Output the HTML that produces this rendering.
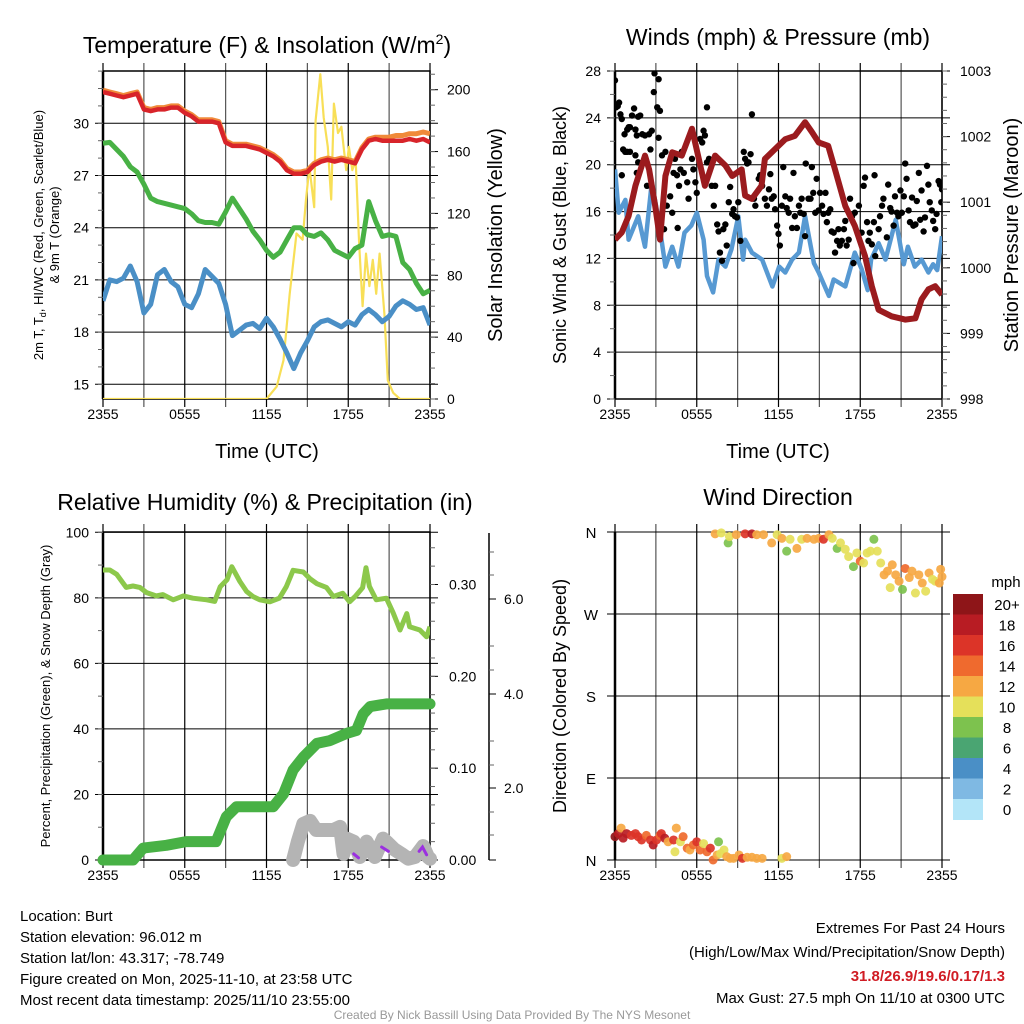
<!DOCTYPE html>
<html><head><meta charset="utf-8"><style>
html,body{margin:0;padding:0;background:#fff;}
svg{display:block;font-family:"Liberation Sans",Arial,sans-serif;}
</style></head><body>
<svg id="root" xmlns="http://www.w3.org/2000/svg" width="1024" height="1024" viewBox="0 0 1024 1024">
<rect width="1024" height="1024" fill="#fff"/>
<defs>
<clipPath id="c1"><rect x="103" y="71" width="327" height="328"/></clipPath>
<clipPath id="c2"><rect x="615" y="71" width="327" height="328"/></clipPath>
<clipPath id="c3"><rect x="103" y="532" width="327" height="328"/></clipPath>
<clipPath id="c4"><rect x="608" y="525" width="341" height="342"/></clipPath>
</defs>
<g id="layer"></g>
<text x="267" y="53" font-size="23" text-anchor="middle">Temperature (F) &amp; Insolation (W/m<tspan font-size="14" dy="-9">2</tspan><tspan dy="9">)</tspan></text>
<text x="778" y="45" font-size="23" text-anchor="middle">Winds (mph) &amp; Pressure (mb)</text>
<text x="265" y="510" font-size="23" text-anchor="middle">Relative Humidity (%) &amp; Precipitation (in)</text>
<text x="778" y="505" font-size="23" text-anchor="middle">Wind Direction</text>
<text x="267" y="458" font-size="20" text-anchor="middle">Time (UTC)</text>
<text x="778" y="458" font-size="20" text-anchor="middle">Time (UTC)</text>
<text transform="translate(43,235) rotate(-90)" font-size="13" text-anchor="middle">2m T, T<tspan font-size="9" dy="3">d</tspan><tspan dy="-3">, HI/WC (Red, Green, Scarlet/Blue)</tspan></text>
<text transform="translate(59,235) rotate(-90)" font-size="13" text-anchor="middle">&amp; 9m T (Orange)</text>
<text transform="translate(502,235) rotate(-90)" font-size="20" text-anchor="middle">Solar Insolation (Yellow)</text>
<text transform="translate(566,235) rotate(-90)" font-size="18" text-anchor="middle">Sonic Wind &amp; Gust (Blue, Black)</text>
<text transform="translate(1018,235) rotate(-90)" font-size="20" text-anchor="middle">Station Pressure (Maroon)</text>
<text transform="translate(50,696) rotate(-90)" font-size="13" text-anchor="middle">Percent, Precipitation (Green), &amp; Snow Depth (Gray)</text>
<text transform="translate(566,696) rotate(-90)" font-size="18" text-anchor="middle">Direction (Colored By Speed)</text>
<g font-size="15">
<text x="20" y="921">Location: Burt</text>
<text x="20" y="942">Station elevation: 96.012 m</text>
<text x="20" y="963">Station lat/lon: 43.317; -78.749</text>
<text x="20" y="984">Figure created on Mon, 2025-11-10, at 23:58 UTC</text>
<text x="20" y="1005">Most recent data timestamp: 2025/11/10 23:55:00</text>
</g>
<g font-size="15" text-anchor="end">
<text x="1005" y="933">Extremes For Past 24 Hours</text>
<text x="1005" y="957">(High/Low/Max Wind/Precipitation/Snow Depth)</text>
<text x="1005" y="981" fill="#d01c24" font-weight="bold">31.8/26.9/19.6/0.17/1.3</text>
<text x="1005" y="1003">Max Gust: 27.5 mph On 11/10 at 0300 UTC</text>
</g>
<text x="512" y="1019" font-size="12" fill="#999" text-anchor="middle">Created By Nick Bassill Using Data Provided By The NYS Mesonet</text>
</svg>
<script>
// ---- data ----
const halfT=[0,0.5,1,1.5,2,2.5,3,3.5,4,4.5,5,5.5,6,6.5,7,7.5,8,8.5,9,9.5,10,10.5,11,11.5,12,12.5,13,13.5,14,14.5,15,15.5,16,16.5,17,17.5,18,18.5,19,19.5,20,20.5,21,21.5,22,22.5,23,23.5,24];
const tempRed=[31.8,31.7,31.6,31.5,31.6,31.7,30.8,30.7,30.8,30.8,30.9,30.9,30.6,30.4,30.1,30.1,30.1,30.0,28.9,28.7,28.7,28.7,28.6,28.5,28.3,28.1,27.8,27.3,27.1,27.1,27.2,27.6,27.8,27.9,27.8,27.9,27.8,27.7,28.5,29.0,29.1,29.0,29.0,29.0,29.0,29.1,29.0,29.1,28.9];
const temp9m=[31.9,31.8,31.7,31.6,31.7,31.8,30.9,30.8,30.9,30.9,31.0,31.0,30.7,30.5,30.2,30.2,30.2,30.1,29.0,28.8,28.8,28.8,28.7,28.6,28.4,28.2,27.9,27.4,27.2,27.2,27.3,27.7,27.9,28.0,27.9,28.0,27.9,27.8,28.6,29.1,29.2,29.2,29.2,29.3,29.3,29.4,29.4,29.5,29.4];
const dewGreen=[28.85,28.9,28.5,28.1,27.5,27.2,26.5,25.7,25.5,25.4,25.3,25.2,25.1,24.8,24.4,24.3,24.3,24.2,24.9,25.7,25.1,24.5,23.8,23.3,22.7,22.3,22.6,23.3,24.0,24.0,23.6,23.5,23.7,23.3,22.7,22.5,22.3,22.8,23.0,25.5,24.4,23.5,23.6,23.5,22.0,21.6,20.8,20.2,20.4];
const wcBlue=[19.8,21.0,20.9,21.1,21.8,20.9,19.1,19.6,21.3,21.6,20.9,20.6,19.6,19.4,20.2,21.6,21.2,20.8,19.6,17.8,18.1,18.4,18.5,18.2,18.8,18.3,17.6,16.8,15.9,16.8,17.5,18.3,18.6,18.7,18.5,18.3,18.6,18.4,19.0,19.3,19.0,18.6,18.9,19.5,19.8,19.6,19.3,19.4,18.4];
const solarT=[0,12.0,12.75,13.25,13.7,14.2,14.65,14.9,15.15,15.5,15.6,15.95,16.2,16.5,16.75,16.95,17.25,17.5,17.85,18.05,18.3,18.55,18.8,19.05,19.3,19.55,19.8,20.05,20.3,20.65,20.9,21.3,21.8,22.15,24];
const solarV=[0,0,8,25,68,107,103,129,150,124,180,210,182,163,129,191,172,176,148,163,148,154,101,60,94,73,90,68,94,55,12,4,0,0,0];
const windT=[0,0.27,0.76,1.0,1.7,2.2,2.7,3.2,3.7,4.2,4.65,5.1,5.6,6.0,6.5,6.75,7.2,7.6,8.1,8.55,9.05,9.4,9.55,10.05,10.8,11.55,12.05,12.5,13.0,13.5,13.95,14.6,14.95,15.7,16.05,16.9,17.6,18.1,18.55,18.8,19.35,19.85,20.6,21.2,21.5,22.0,22.5,23.0,23.35,23.65,24];
const windV=[19.6,15.9,17.0,13.6,15.6,13.0,18.5,15.3,11.3,13.0,11.3,14.2,14.8,15.9,13.6,10.5,9.1,11.9,11.3,12.8,15.6,11.9,13.6,12.5,11.9,9.6,11.3,10.8,11.9,12.5,15.6,11.6,10.8,8.8,10.2,9.6,12.5,11.1,9.3,11.9,13.3,11.9,15.3,11.5,13.0,11.3,11.9,10.8,11.5,11.0,13.9];
const presT=[0,0.5,1.0,1.5,2.2,2.5,2.95,3.3,3.7,4.2,4.9,5.65,6.15,6.6,7.35,8.1,8.6,9.3,9.55,10.05,10.75,11.0,11.75,12.5,13.2,13.95,14.45,14.95,15.65,16.15,16.9,17.6,18.35,18.85,19.35,20.3,21.3,22.05,22.5,23.0,23.5,24];
const presV=[1000.43,1000.54,1000.79,1001.25,1001.71,1001.5,1000.94,1000.43,1001.40,1001.76,1001.71,1002.12,1001.66,1001.25,1001.71,1001.56,1001.40,1001.5,1001.10,1001.05,1001.25,1001.66,1001.81,1001.96,1002.01,1002.22,1002.07,1001.91,1001.86,1001.5,1000.94,1000.64,1000.18,999.72,999.36,999.26,999.21,999.23,999.52,999.67,999.72,999.59];
const gustT=[0,0.07,0.2,0.3,0.4,0.5,0.6,0.7,0.9,1.0,1.1,0.9,1.25,1.4,1.5,1.6,1.7,1.85,2.0,2.2,2.5,2.7,2.9,3.2,3.1,3.3,3.2,2.85,2.6,0.75,1.1,1.5,1.7,0.5,1.6,2.35,3.45,3.7,3.6,3.8,4.05,4.2,4.3,4.4,4.55,4.7,4.8,4.6,4.9,5.05,5.3,5.4,5.65,5.75,5.9,6.0,6.25,6.4,6.5,6.6,6.75,6.75,6.9,7.1,7.25,7.35,7.5,7.6,7.7,7.85,7.95,8.1,8.2,8.35,8.45,8.6,8.7,8.8,8.95,9.05,9.2,9.45,9.55,9.7,9.8,9.95,10.05,10.2,10.3,10.55,10.65,10.8,11.0,11.15,11.3,11.4,11.5,11.65,11.75,11.9,12.0,12.1,12.25,12.35,12.5,12.6,12.75,12.85,13.0,13.1,13.2,13.35,13.5,13.6,13.7,13.85,13.95,14.0,14.2,14.35,14.45,14.55,14.7,14.8,14.95,15.05,15.2,15.3,15.45,15.55,15.65,15.8,15.9,16.05,16.15,16.3,16.4,16.5,16.65,16.8,16.9,17.0,17.15,17.25,17.4,17.5,17.6,17.9,18.1,18.25,18.35,18.5,18.6,18.7,18.85,19.0,19.1,19.05,19.35,19.45,19.6,19.7,19.95,20.05,20.2,20.3,20.45,20.55,20.7,20.8,20.95,21.05,21.2,21.3,21.4,21.55,21.65,21.8,21.9,22.05,22.15,22.3,22.4,22.5,22.65,22.75,22.9,23.0,23.1,23.25,23.35,23.5,23.6,23.75,23.85,24.0,23.95];
const gustV=[27.2,24.9,25.0,25.3,24.3,23.9,21.3,22.6,23.0,23.2,23.2,21.1,24.2,24.8,23.0,22.5,24.1,24.2,22.6,22.5,22.6,22.9,27.8,27.3,24.9,24.6,22.3,26.2,21.3,21.1,21.1,20.8,20.2,19.1,19.3,18.2,20.8,21.1,14.5,16.5,17.3,15.9,19.3,20.5,19.1,18.2,19.6,14.6,21.1,19.3,18.5,17.1,20.5,19.6,18.5,17.6,22.2,21.9,22.9,22.5,24.9,20.2,20.5,18.2,16.5,18.2,14.9,14.3,12.5,11.8,14.5,14.9,13.1,16.8,18.1,15.8,16.2,15.6,15.5,16.8,13.5,21.1,20.5,20.1,20.2,20.9,24.3,17.1,16.5,18.8,19.1,18.2,17.1,16.5,17.9,19.2,17.1,17.3,16.2,14.8,14.1,13.1,16.5,19.8,17.3,16.3,15.9,17.1,14.6,19.3,15.6,14.6,16.5,15.9,17.1,15.8,13.9,20.1,17.1,17.1,19.8,17.6,15.9,18.8,16.1,17.6,16.5,15.8,17.6,15.1,15.9,16.2,14.3,14.2,12.5,13.5,14.5,13.1,13.5,14.5,15.2,13.1,13.6,17.1,15.6,11.6,15.9,16.5,14.2,18.2,18.9,15.1,13.5,14.2,13.2,15.1,12.2,19.1,14.5,15.6,16.5,17.1,13.8,18.3,16.3,16.0,14.8,17.3,15.9,15.6,17.8,15.9,17.3,20.1,18.8,16.1,15.1,17.2,14.8,14.9,16.9,19.3,15.3,17.8,14.3,15.5,19.9,18.3,16.8,16.1,15.2,14.5,15.8,18.6,18.3,17.9,16.8];
const rhT=[0,0.5,1.0,1.7,2.2,2.7,3.2,3.9,4.4,5.15,5.9,6.6,7.6,8.2,8.6,9.1,9.45,10.05,10.55,11.0,11.5,12.25,12.95,13.45,13.95,14.7,15.2,15.7,16.4,16.9,17.6,18.1,18.55,19.05,19.3,19.55,20.05,20.8,21.3,21.8,22.3,22.5,23.25,23.75,24];
const rhV=[88.5,88.5,87.2,83.2,83.6,83.2,81.6,80.6,81.0,79.4,80.6,79.9,79.4,78.9,83.4,85.5,89.5,85.0,81.9,80.4,79.4,78.8,79.9,83.4,88.4,87.9,85.8,84.3,83.2,80.4,81.4,78.8,80.6,83.1,89.2,83.5,79.4,79.9,75.4,70.2,75.2,71.2,70.2,68.1,71.2];
const precipT=[0,2.2,2.95,4.65,6.1,8.3,9.05,9.8,12.5,13.25,13.95,14.7,15.7,16.65,17.9,18.6,19.1,19.6,20.8,24];
const precipV=[0,0,0.013,0.016,0.020,0.020,0.047,0.058,0.058,0.072,0.098,0.112,0.127,0.130,0.138,0.141,0.159,0.167,0.170,0.170];
const snowT=[13.95,14.3,14.7,15.2,15.65,16.9,17.4,17.65,17.9,18.4,18.85,19.35,19.95,20.55,20.9,21.4,21.9,22.4,22.9,23.5,23.85,24];
const snowV=[0,0.42,0.83,0.9,0.69,0.69,0.76,0.14,0.49,0.42,0.07,0.42,0.07,0.49,0.39,0.24,0.14,0.03,0.07,0.32,0.07,0.03];
const purpleT=[[18.4,18.75],[20.45,20.95],[23.2,23.45,23.75]];
const purpleV=[[0.14,0.05],[0.3,0.2],[0.2,0.3,0.12]];
const dirT=[0,0.25,0.45,0.6,0.85,1.2,1.5,1.7,1.95,2.3,2.6,2.8,3.05,3.3,3.4,3.65,3.9,4.3,4.4,4.5,4.8,5.0,5.3,5.5,5.75,6.0,6.25,6.5,6.75,7.0,7.2,7.5,7.6,7.75,8.0,8.2,8.45,8.7,9.1,9.35,9.7,10.05,10.4,10.8,12.25,12.6,
7.35,7.8,8.3,8.4,8.9,9.55,10.05,10.4,10.9,11.5,11.9,12.25,12.6,12.85,13.35,13.7,14.1,14.6,14.95,15.3,15.7,15.95,16.3,16.55,16.9,17.15,17.5,17.75,18.0,18.25,18.5,18.75,19.0,19.25,19.5,19.75,20.0,20.2,20.35,20.6,20.85,21.1,21.3,21.6,21.8,22.05,22.3,22.55,22.8,23.05,23.3,23.5,23.8,23.9,24.0];
const dirDeg=[25.6,29,35,24,29,27,29,25.6,22,27,22,16.5,22,27,29,24,20,22,9,35,20,25.6,13,11,16.5,20,11,18,9,13,0,5.5,20,7,11,3.7,1.8,1.8,5.5,1.8,3,3,1.8,1.8,1.8,3.7,
358,359,348,355,357,358,358,357,357,348,357,353,339,352,342,352,353,352,353,352,357,353,342,348,341,333,322,337,328,326,337,339,352,339,326,313,317,299,324,313,306,297,320,310,317,293,313,304,295,315,308,306,304,319,311];
const dirSpd=[21,18,13,19,18,17,17,16,17,15,17,19,16,15,17,18,13,16,11,13,10,15,15,12,14,17,15,11,15,16,15,12,9,11,10,13,13,12,13,17,13,12,12,12,11,12,
12,10,8,11,12,17,18,12,12,13,11,13,8,10,12,11,12,12,13,16,12,11,9,11,10,10,8,10,14,11,10,11,9,11,10,12,12,10,13,12,12,8,15,12,12,10,13,12,10,12,11,10,12,12,13,12,13,15];
const timeLabels=["2355","0555","1155","1755","2355"];
const tempTicks=[15,18,21,24,27,30];
const solarTicks=[0,40,80,120,160,200];
const windTicks=[0,4,8,12,16,20,24,28];
const presTicks=[998,999,1000,1001,1002,1003];
const rhTicks=[0,20,40,60,80,100];
const precipTicks=[0,0.1,0.2,0.3];
const snowTicks=[2,4,6];
const dirLabels=["N","E","S","W","N"];
const speedLabels=["20+","18","16","14","12","10","8","6","4","2","0"];
const speedColors=["#8e1518","#b81c23","#dc3428","#ef6a2e","#f6a843","#e5e05a","#7dc24e","#4aa572","#4a8fc6","#7fb9e3","#b3e5f8"];

// ---- helpers ----
const NS="http://www.w3.org/2000/svg";
const layer=document.getElementById('layer');
function el(tag,attrs,parent){const e=document.createElementNS(NS,tag);for(const k in attrs)e.setAttribute(k,attrs[k]);(parent||layer).appendChild(e);return e;}
const P1={x0:103,x1:430,y0:71,y1:399},P2={x0:615,x1:942,y0:71,y1:399},P3={x0:103,x1:430,y0:532,y1:860},P4={x0:615,x1:942,y0:532,y1:860};
function xs(P){return t=>P.x0+t/24*(P.x1-P.x0);}
function lin(d0,d1,r0,r1){return v=>r0+(v-d0)/(d1-d0)*(r1-r0);}
const yT=lin(15,30,384.3,123.3), yS=lin(0,200,399,89.7);
const yW=lin(0,28,399,71), yP=lin(998,1003,399,71);
const yRH=lin(0,100,860,532.3), yPr=lin(0,0.3,860,584.5), ySn=lin(0,6,860,599);
const yD=lin(0,360,860,532);
function pts(ts,vs,xf,yf){return ts.map((t,i)=>xf(t).toFixed(1)+','+yf(vs[i]).toFixed(1)).join(' ');}

function gridAndFrame(P,name,hTicks,yf){
  const g=el('g',{});
  
  
  const xf=xs(P);
  for(let h=0;h<=24;h+=3){const x=xf(h);
    const l=el('line',{x1:x,x2:x,y1:P.y0-8,y2:P.y1+8,stroke:(h%6==0?'#000':'#555'),'stroke-width':1.2},g);
    }
  hTicks.forEach(v=>{const y=yf(v);
    const l=el('line',{x1:P.x0-8,x2:P.x1+8,y1:y,y2:y,stroke:'#000','stroke-width':1},g);
    });
  const r=el('rect',{x:P.x0,y:P.y0,width:P.x1-P.x0,height:P.y1-P.y0,fill:'none',stroke:'#000','stroke-width':1.5},g);
  
  el('line',{x1:P.x0,x2:P.x0,y1:P.y0,y2:P.y1,stroke:'#000','stroke-width':2.5},g);
  // x labels
  timeLabels.forEach((s,i)=>{const t=el('text',{x:xf(i*6),y:P.y1+20,'font-size':14,'text-anchor':'middle'},g);t.textContent=s;
    });
}
function leftLabels(P,ticks,yf,fmt){ticks.forEach(v=>{const t=el('text',{x:P.x0-14,y:yf(v)+5,'font-size':14,'text-anchor':'end'});t.textContent=fmt(v);
  });}
function rightAxis(P,ticks,yf,fmt,minorStep,dmin,dmax,lx){
  ticks.forEach(v=>{const y=yf(v);el('line',{x1:P.x1,x2:P.x1+8,y1:y,y2:y,stroke:'#000'});
    const t=el('text',{x:lx,y:y+5,'font-size':14});t.textContent=fmt(v);
    });
  for(let v=dmin;v<=dmax+1e-9;v+=minorStep){const y=yf(v);if(y<P.y0-0.5||y>P.y1+0.5)continue;el('line',{x1:P.x1,x2:P.x1+5,y1:y,y2:y,stroke:'#666'});}
}
function leftMinor(P,yf,step,dmin,dmax){for(let v=dmin;v<=dmax+1e-9;v+=step){const y=yf(v);if(y<P.y0-0.5||y>P.y1+0.5)continue;el('line',{x1:P.x0-5,x2:P.x0,y1:y,y2:y,stroke:'#666'});}}

// ---- Panel 1 ----
gridAndFrame(P1,'temperature',tempTicks,yT);
leftLabels(P1,tempTicks,yT,v=>v);
leftMinor(P1,yT,1,14,33);
rightAxis(P1,solarTicks,yS,v=>v,10,0,210,447);
{const x=xs(P1);const g=el('g',{'clip-path':'url(#c1)'});
 let p;
 p=el('polyline',{points:pts(solarT,solarV,x,yS),fill:'none',stroke:'#f8df57','stroke-width':2.2,'stroke-linejoin':'round'},g);
 
 p=el('polyline',{points:pts(halfT,wcBlue,x,yT),fill:'none',stroke:'#4a8fc6','stroke-width':5,'stroke-linejoin':'round'},g);
 
 p=el('polyline',{points:pts(halfT,dewGreen,x,yT),fill:'none',stroke:'#48b145','stroke-width':5,'stroke-linejoin':'round'},g);
 
 p=el('polyline',{points:pts(halfT,temp9m,x,yT),fill:'none',stroke:'#f08a3a','stroke-width':5,'stroke-linejoin':'round'},g);
 
 p=el('polyline',{points:pts(halfT,tempRed,x,yT),fill:'none',stroke:'#d8242a','stroke-width':4.5,'stroke-linejoin':'round'},g);
 
}
// ---- Panel 2 ----
gridAndFrame(P2,'winds',windTicks,yW);
leftLabels(P2,windTicks,yW,v=>v);
leftMinor(P2,yW,2,0,28);
rightAxis(P2,presTicks,yP,v=>v,0.2,998,1003,960);
{const x=xs(P2);const g=el('g',{'clip-path':'url(#c2)'});
 let p=el('polyline',{points:pts(windT,windV,x,yW),fill:'none',stroke:'#5799d2','stroke-width':4.5,'stroke-linejoin':'round'},g);
 
 gustT.forEach((t,i)=>{const c=el('circle',{cx:x(t),cy:yW(gustV[i]),r:3.2,fill:'#000'},g);
   });
 p=el('polyline',{points:pts(presT,presV,x,yP),fill:'none',stroke:'#9b1b1e','stroke-width':6,'stroke-linejoin':'round'},g);
 
}
// ---- Panel 3 ----
gridAndFrame(P3,'humidity',rhTicks,yRH);
leftLabels(P3,rhTicks,yRH,v=>v);
leftMinor(P3,yRH,10,0,100);
rightAxis(P3,precipTicks,yPr,v=>v.toFixed(2),0.02,0,0.36,449);
{el('line',{x1:489,x2:489,y1:533,y2:860,stroke:'#000','stroke-width':1.5});
 for(let v=0;v<=7.01;v+=0.5){const y=ySn(v)-((v>0)?(ySn(0)-ySn(0)):0);}
 const snowTickY=[788,694,599];
 snowTicks.forEach((v,i)=>{const y=snowTickY[i];el('line',{x1:489,x2:496,y1:y,y2:y,stroke:'#000'});
   const t=el('text',{x:504,y:y+5,'font-size':14});t.textContent=v.toFixed(1);
   });
 [552,575,646,670,741,765,812,835].forEach(y=>el('line',{x1:489,x2:494,y1:y,y2:y,stroke:'#666'}));
 el('line',{x1:489,x2:496,y1:860,y2:860,stroke:'#000'});
 const x=xs(P3);const g=el('g',{'clip-path':'url(#c3)'});
 let p=el('polyline',{points:pts(rhT,rhV,x,yRH),fill:'none',stroke:'#8cc84b','stroke-width':5,'stroke-linejoin':'round'},g);
 
 p=el('polyline',{points:pts(snowT,snowV,x,ySn),fill:'none',stroke:'#b4b4b4','stroke-width':14,'stroke-linejoin':'round','stroke-linecap':'round'});
 
 p=el('polyline',{points:pts(precipT,precipV,x,yPr),fill:'none',stroke:'#48b145','stroke-width':11,'stroke-linejoin':'round','stroke-linecap':'round'});
 
 purpleT.forEach((ts,i)=>{const q=el('polyline',{points:pts(ts,purpleV[i],x,ySn),fill:'none',stroke:'#9b30e0','stroke-width':3,'stroke-linecap':'round'});
   });
}
// ---- Panel 4 ----
{const P=P4,xf=xs(P4);const g=el('g',{});
 
 
 for(let h=0;h<=24;h+=3){const x=xf(h);el('line',{x1:x,x2:x,y1:P.y0-8,y2:P.y1+8,stroke:(h%6==0?'#000':'#555'),'stroke-width':1.2},g);}
 [0,90,180,270,360].forEach((d,i)=>{const y=yD(d);el('line',{x1:P.x0-8,x2:P.x1+8,y1:y,y2:y,stroke:'#000'},g);
   const t=el('text',{x:591,y:y+6,'font-size':15,'text-anchor':'middle'});t.textContent=dirLabels[i];
   });
 el('line',{x1:P.x0,x2:P.x0,y1:P.y0,y2:P.y1,stroke:'#000','stroke-width':2.5},g);
 timeLabels.forEach((s,i)=>{const t=el('text',{x:xf(i*6),y:P.y1+20,'font-size':14,'text-anchor':'middle'});t.textContent=s;
   });
 const gc=el('g',{'clip-path':'url(#c4)'});
 dirT.forEach((t,i)=>{const s=dirSpd[i];const bin=Math.min(10,Math.floor(s/2));const col=speedColors[10-bin];
   const c=el('circle',{cx:xf(t),cy:yD(dirDeg[i]),r:4.5,fill:col,'fill-opacity':0.92},gc);
   });
 // colorbar
 const cb=el('g',{});
 
 
 const bh=20.5;
 speedColors.forEach((c,i)=>{const r=el('rect',{x:953,y:594+i*bh,width:30,height:bh+0.5,fill:c},cb);
   
   const t=el('text',{x:1007,y:594+i*bh+bh/2+5.5,'font-size':15,'text-anchor':'middle'},cb);t.textContent=speedLabels[i];
   });
 const m=el('text',{x:1006,y:587,'font-size':15,'text-anchor':'middle'},cb);m.textContent='mph';
 
}
</script>
</body></html>
